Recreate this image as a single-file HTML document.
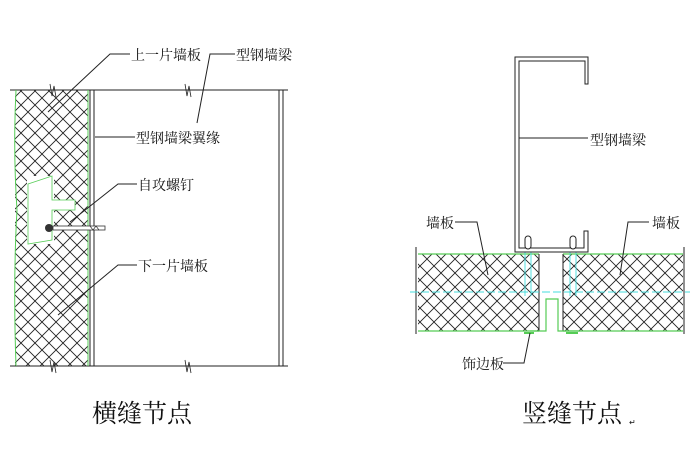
<!DOCTYPE html>
<html><head><meta charset="utf-8"><style>
html,body{margin:0;padding:0;background:#fff;}
svg{display:block;}
text{font-family:"Liberation Sans","Noto Serif CJK SC","Noto Sans CJK SC",serif;fill:#111;}
</style></head><body>
<svg width="700" height="466" viewBox="0 0 700 466" xmlns="http://www.w3.org/2000/svg">
<defs>
<pattern id="h" width="14" height="14" patternUnits="userSpaceOnUse">
<path d="M0 0L14 14M14 0L0 14" stroke="#222" stroke-width="0.9"/>
</pattern>
</defs>
<!-- LEFT -->
<line x1="10" y1="90" x2="288" y2="90" stroke="#222" stroke-width="1"/>
<line x1="10" y1="366" x2="288" y2="366" stroke="#222" stroke-width="1"/>
<rect x="15" y="90" width="73" height="276" fill="url(#h)"/>
<rect x="27" y="176" width="27" height="68" fill="#fff"/>
<path d="M16 90 Q13 150 17 210 Q13 280 16 366" fill="none" stroke="#5c5" stroke-width="1"/>
<line x1="88" y1="90" x2="88" y2="366" stroke="#5c5" stroke-width="1"/>
<path d="M28 184 L52 176 L52 200 L75 200 L75 210 L52 210 L52 240 L28 244 Z" fill="#fff" stroke="#5c5" stroke-width="0.8"/>
<line x1="90" y1="90" x2="90" y2="366" stroke="#222" stroke-width="1"/>
<line x1="94" y1="90" x2="94" y2="366" stroke="#222" stroke-width="1"/>
<line x1="279" y1="90" x2="279" y2="366" stroke="#222" stroke-width="1"/>
<line x1="283" y1="90" x2="283" y2="366" stroke="#222" stroke-width="1"/>
<!-- break marks -->
<path d="M50 84 L52 96 L54 86 L56 97" fill="none" stroke="#222" stroke-width="0.8"/>
<path d="M185 84 L187 96 L189 86 L191 97" fill="none" stroke="#222" stroke-width="0.8"/>
<path d="M50 360 L52 372 L54 362 L56 373" fill="none" stroke="#222" stroke-width="0.8"/>
<path d="M185 360 L187 372 L189 362 L191 373" fill="none" stroke="#222" stroke-width="0.8"/>
<!-- screw -->
<circle cx="49" cy="228" r="4" fill="#333"/>
<rect x="53" y="226" width="52" height="4" fill="#fff" stroke="#333" stroke-width="0.8"/>
<path d="M90 226 l3 4 l3 -4 l3 4" stroke="#333" fill="none" stroke-width="0.7"/>
<!-- leaders -->
<g stroke="#222" stroke-width="1" fill="none">
<path d="M48 112 L110 54 L130 54"/>
<path d="M197 123 L210 54 L235 54"/>
<path d="M95 137 L135 137"/>
<path d="M70 222 L118 184 L137 184"/>
<path d="M58 315 L118 265 L137 265"/>
</g>
<text x="131" y="60" font-size="14">上一片墙板</text>
<text x="236" y="60" font-size="14">型钢墙梁</text>
<text x="136" y="143" font-size="14">型钢墙梁翼缘</text>
<text x="138" y="190" font-size="14">自攻螺钉</text>
<text x="138" y="271" font-size="14">下一片墙板</text>
<text x="92" y="422" font-size="25">横缝节点</text>
<!-- RIGHT -->
<rect x="418" y="254" width="121" height="77" fill="url(#h)"/>
<rect x="563" y="254" width="120" height="77" fill="url(#h)"/>
<g stroke="#5c5" stroke-width="1.2">
<line x1="418" y1="254" x2="539" y2="254"/><line x1="418" y1="331" x2="539" y2="331"/>
<line x1="563" y1="254" x2="683" y2="254"/><line x1="563" y1="331" x2="683" y2="331"/>
</g>
<line x1="539" y1="254" x2="539" y2="331" stroke="#222"/>
<line x1="563" y1="254" x2="563" y2="331" stroke="#222"/>
<line x1="416" y1="247" x2="416" y2="334" stroke="#222"/>
<line x1="684" y1="247" x2="684" y2="334" stroke="#222"/>
<line x1="410" y1="292" x2="690" y2="292" stroke="#4dd" stroke-dasharray="8 3" stroke-width="0.9"/>
<g stroke="#4dd" stroke-width="0.9" fill="none">
<path d="M525 252 V296 M531 252 V296 M570 252 V296 M576 252 V296"/>
</g>
<!-- C channel -->
<path d="M515 252 V57 H588 V84 H585 V61 H519 V248 H584 V231 H588 V252 Z" fill="#fff" stroke="#222" stroke-width="1"/>
<rect x="525" y="236" width="6" height="13" rx="3" fill="#fff" stroke="#222"/>
<rect x="570" y="236" width="6" height="13" rx="3" fill="#fff" stroke="#222"/>
<!-- trim -->
<path d="M530 331 H546 V299 H558 V331 H580" fill="none" stroke="#5c5" stroke-width="1.2"/>
<line x1="524" y1="333" x2="534" y2="333" stroke="#5c5" stroke-width="2"/>
<line x1="566" y1="333" x2="578" y2="333" stroke="#5c5" stroke-width="2"/>
<g stroke="#222" stroke-width="1" fill="none">
<path d="M519 138 L588 138"/>
<path d="M455 222 L477 222 L488 275"/>
<path d="M649 222 L628 222 L620 275"/>
<path d="M503 363 L524 363 L530 333"/>
</g>
<text x="590" y="145" font-size="14">型钢墙梁</text>
<text x="426" y="228" font-size="14">墙板</text>
<text x="652" y="228" font-size="14">墙板</text>
<text x="462" y="369" font-size="14">饰边板</text>
<text x="522" y="422" font-size="25">竖缝节点</text>
<text x="629" y="425" font-size="8" fill="#888">↵</text>
</svg>
</body></html>
